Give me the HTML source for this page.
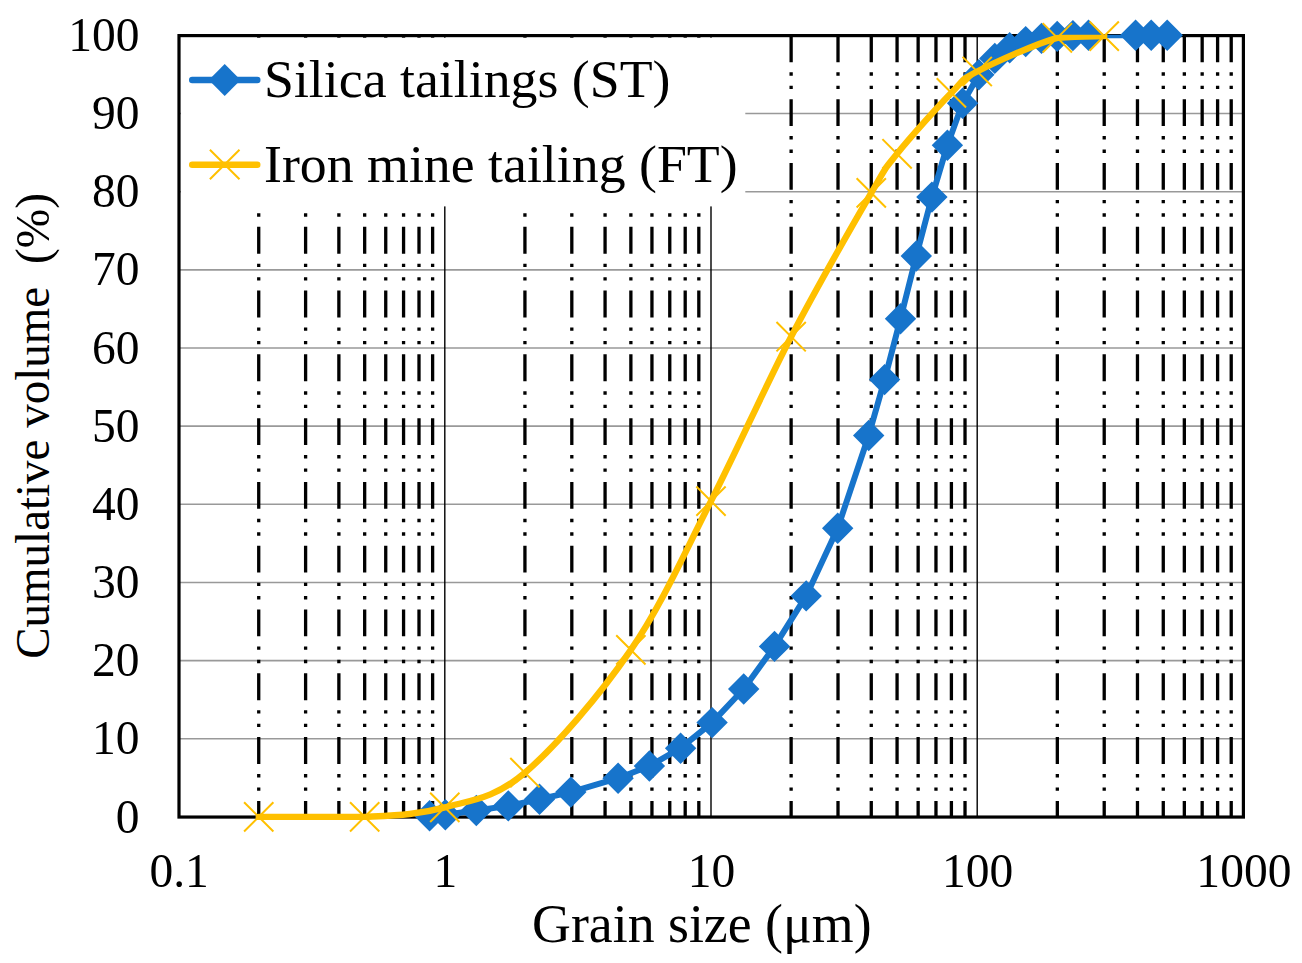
<!DOCTYPE html><html><head><meta charset="utf-8"><style>html,body{margin:0;padding:0;background:#fff;}svg{display:block;}text{font-family:"Liberation Serif",serif;fill:#000;}</style></head><body>
<svg width="1302" height="963" viewBox="0 0 1302 963">
<defs><clipPath id="pa"><rect x="150" y="34.8" width="1120" height="820"/></clipPath></defs>
<rect x="0" y="0" width="1302" height="963" fill="#fff"/>
<path d="M178.6,738.75H1243.4M178.6,660.6H1243.4M178.6,582.45H1243.4M178.6,504.3H1243.4M178.6,426.15H1243.4M178.6,348H1243.4M178.6,269.85H1243.4M178.6,191.7H1243.4M178.6,113.55H1243.4" stroke="#999" stroke-width="1.6" fill="none"/>
<path d="M258.73,35.4V816.9M305.61,35.4V816.9M338.87,35.4V816.9M364.67,35.4V816.9M385.74,35.4V816.9M403.57,35.4V816.9M419,35.4V816.9M432.62,35.4V816.9M524.93,35.4V816.9M571.81,35.4V816.9M605.07,35.4V816.9M630.87,35.4V816.9M651.94,35.4V816.9M669.77,35.4V816.9M685.2,35.4V816.9M698.82,35.4V816.9M791.13,35.4V816.9M838.01,35.4V816.9M871.27,35.4V816.9M897.07,35.4V816.9M918.14,35.4V816.9M935.97,35.4V816.9M951.4,35.4V816.9M965.02,35.4V816.9M1057.33,35.4V816.9M1104.21,35.4V816.9M1137.47,35.4V816.9M1163.27,35.4V816.9M1184.34,35.4V816.9M1202.17,35.4V816.9M1217.6,35.4V816.9M1231.22,35.4V816.9" stroke="#000" stroke-width="3.3" stroke-dasharray="26.86 10.07 3.36 10.07 3.36 10.07" fill="none"/>
<path d="M444.8,35.4V816.9M711,35.4V816.9M977.2,35.4V816.9" stroke="#000" stroke-width="1.4" fill="none"/>
<rect x="181" y="37.7" width="564.3" height="168.7" fill="#fff"/>
<rect x="179" y="35.6" width="1064.4" height="781.45" stroke="#000" stroke-width="3.2" fill="none"/>
<path clip-path="url(#pa)" d="M429.6,815.7 L445.35,814.7 L476.3,810.5 L508.3,805.9 L539.5,799.3 L570.8,792.1 L618.1,778.2 L649.4,766 L680.6,748.2 L712.1,722.6 L743.7,689 L774.5,646.4 L806.2,595.9 L837.7,528.2 L868.7,435.5 L884.6,379.6 L900.5,318.7 L916.3,256 L931.9,197.1 L947.4,145.2 L962.6,103.2 L978.8,74.8 L994.8,58.4 L1009.7,47.8 L1025.7,41.6 L1041.5,38.4 L1057.2,36.4 L1072.9,35.6 L1088.5,35.2 L1135.6,35.2 L1151.2,35.2 L1167.2,35.2" stroke="#1774CB" stroke-width="6" stroke-linejoin="round" stroke-linecap="round" fill="none"/>
<path d="M429.6,800l15.7,15.7l-15.7,15.7l-15.7,-15.7zM445.35,799l15.7,15.7l-15.7,15.7l-15.7,-15.7zM476.3,794.8l15.7,15.7l-15.7,15.7l-15.7,-15.7zM508.3,790.2l15.7,15.7l-15.7,15.7l-15.7,-15.7zM539.5,783.6l15.7,15.7l-15.7,15.7l-15.7,-15.7zM570.8,776.4l15.7,15.7l-15.7,15.7l-15.7,-15.7zM618.1,762.5l15.7,15.7l-15.7,15.7l-15.7,-15.7zM649.4,750.3l15.7,15.7l-15.7,15.7l-15.7,-15.7zM680.6,732.5l15.7,15.7l-15.7,15.7l-15.7,-15.7zM712.1,706.9l15.7,15.7l-15.7,15.7l-15.7,-15.7zM743.7,673.3l15.7,15.7l-15.7,15.7l-15.7,-15.7zM774.5,630.7l15.7,15.7l-15.7,15.7l-15.7,-15.7zM806.2,580.2l15.7,15.7l-15.7,15.7l-15.7,-15.7zM837.7,512.5l15.7,15.7l-15.7,15.7l-15.7,-15.7zM868.7,419.8l15.7,15.7l-15.7,15.7l-15.7,-15.7zM884.6,363.9l15.7,15.7l-15.7,15.7l-15.7,-15.7zM900.5,303l15.7,15.7l-15.7,15.7l-15.7,-15.7zM916.3,240.3l15.7,15.7l-15.7,15.7l-15.7,-15.7zM931.9,181.4l15.7,15.7l-15.7,15.7l-15.7,-15.7zM947.4,129.5l15.7,15.7l-15.7,15.7l-15.7,-15.7zM962.6,87.5l15.7,15.7l-15.7,15.7l-15.7,-15.7zM978.8,59.1l15.7,15.7l-15.7,15.7l-15.7,-15.7zM994.8,42.7l15.7,15.7l-15.7,15.7l-15.7,-15.7zM1009.7,32.1l15.7,15.7l-15.7,15.7l-15.7,-15.7zM1025.7,25.9l15.7,15.7l-15.7,15.7l-15.7,-15.7zM1041.5,22.7l15.7,15.7l-15.7,15.7l-15.7,-15.7zM1057.2,20.7l15.7,15.7l-15.7,15.7l-15.7,-15.7zM1072.9,19.9l15.7,15.7l-15.7,15.7l-15.7,-15.7zM1088.5,19.5l15.7,15.7l-15.7,15.7l-15.7,-15.7zM1135.6,19.5l15.7,15.7l-15.7,15.7l-15.7,-15.7zM1151.2,19.5l15.7,15.7l-15.7,15.7l-15.7,-15.7zM1167.2,19.5l15.7,15.7l-15.7,15.7l-15.7,-15.7z" fill="#1774CB"/>
<path clip-path="url(#pa)" d="M258.73,816.9 C276.39,816.9 333.65,816.9 364.67,816.9 C395.68,815.32 418.09,814.77 444.8,807.4 C471.51,800.03 493.92,798.95 524.93,772.7 C555.95,746.45 599.85,695.17 630.87,649.9 C661.88,604.63 684.29,553.3 711,501.1 C737.71,448.9 764.42,388.07 791.13,336.7 C817.85,285.33 853.61,223.38 871.27,192.9 C888.92,162.42 883.71,170.48 897.07,153.8 C910.42,137.12 938.05,106.57 951.4,92.85 C964.76,79.13 959.54,80.67 977.2,71.5 C994.86,62.33 1036.17,43.7 1057.33,37.8 C1078.5,36.1 1096.4,36.38 1104.21,36.1" stroke="#FFC000" stroke-width="6.4" stroke-linejoin="round" stroke-linecap="round" fill="none"/>
<path d="M244.08,802.25l29.3,29.3M244.08,831.55l29.3,-29.3M350.02,802.25l29.3,29.3M350.02,831.55l29.3,-29.3M430.15,792.75l29.3,29.3M430.15,822.05l29.3,-29.3M510.28,758.05l29.3,29.3M510.28,787.35l29.3,-29.3M616.22,635.25l29.3,29.3M616.22,664.55l29.3,-29.3M696.35,486.45l29.3,29.3M696.35,515.75l29.3,-29.3M776.48,322.05l29.3,29.3M776.48,351.35l29.3,-29.3M856.62,178.25l29.3,29.3M856.62,207.55l29.3,-29.3M882.42,139.15l29.3,29.3M882.42,168.45l29.3,-29.3M936.75,78.2l29.3,29.3M936.75,107.5l29.3,-29.3M962.55,56.85l29.3,29.3M962.55,86.15l29.3,-29.3M1042.68,23.15l29.3,29.3M1042.68,52.45l29.3,-29.3M1089.56,21.45l29.3,29.3M1089.56,50.75l29.3,-29.3" stroke="#FFC000" stroke-width="2" fill="none"/>
<path d="M192.2,80H257.3" stroke="#1774CB" stroke-width="6.4" stroke-linecap="round"/>
<path d="M224.7,64.1l15.9,15.9l-15.9,15.9l-15.9,-15.9z" fill="#1774CB"/>
<path d="M192.2,164.7H257.3" stroke="#FFC000" stroke-width="6.4" stroke-linecap="round"/>
<path d="M209.9,149.7l29.6,29.6M209.9,179.3l29.6,-29.6" stroke="#FFC000" stroke-width="2"/>
<text x="264" y="96.8" font-size="53.8">Silica tailings (ST)</text>
<text x="264" y="181.7" font-size="53.8">Iron mine tailing (FT)</text>
<text transform="translate(139.6,832.5) scale(0.97,1)" font-size="49" text-anchor="end">0</text>
<text transform="translate(139.6,754.35) scale(0.97,1)" font-size="49" text-anchor="end">10</text>
<text transform="translate(139.6,676.2) scale(0.97,1)" font-size="49" text-anchor="end">20</text>
<text transform="translate(139.6,598.05) scale(0.97,1)" font-size="49" text-anchor="end">30</text>
<text transform="translate(139.6,519.9) scale(0.97,1)" font-size="49" text-anchor="end">40</text>
<text transform="translate(139.6,441.75) scale(0.97,1)" font-size="49" text-anchor="end">50</text>
<text transform="translate(139.6,363.6) scale(0.97,1)" font-size="49" text-anchor="end">60</text>
<text transform="translate(139.6,285.45) scale(0.97,1)" font-size="49" text-anchor="end">70</text>
<text transform="translate(139.6,207.3) scale(0.97,1)" font-size="49" text-anchor="end">80</text>
<text transform="translate(139.6,129.15) scale(0.97,1)" font-size="49" text-anchor="end">90</text>
<text transform="translate(139.6,51) scale(0.97,1)" font-size="49" text-anchor="end">100</text>
<text transform="translate(179.1,887.3) scale(0.97,1)" font-size="49" text-anchor="middle">0.1</text>
<text transform="translate(445.3,887.3) scale(0.97,1)" font-size="49" text-anchor="middle">1</text>
<text transform="translate(711.5,887.3) scale(0.97,1)" font-size="49" text-anchor="middle">10</text>
<text transform="translate(977.7,887.3) scale(0.97,1)" font-size="49" text-anchor="middle">100</text>
<text transform="translate(1243.9,887.3) scale(0.97,1)" font-size="49" text-anchor="middle">1000</text>
<text transform="translate(701.8,941.7) scale(1,1.03)" font-size="53.8" text-anchor="middle">Grain size (μm)</text>
<text transform="translate(48.6,658.8) rotate(-90) scale(1,1.03)" font-size="47">Cumulative volume</text>
<text transform="translate(48.6,264) rotate(-90) scale(1,1.03)" font-size="47.3">(%)</text>
</svg></body></html>
